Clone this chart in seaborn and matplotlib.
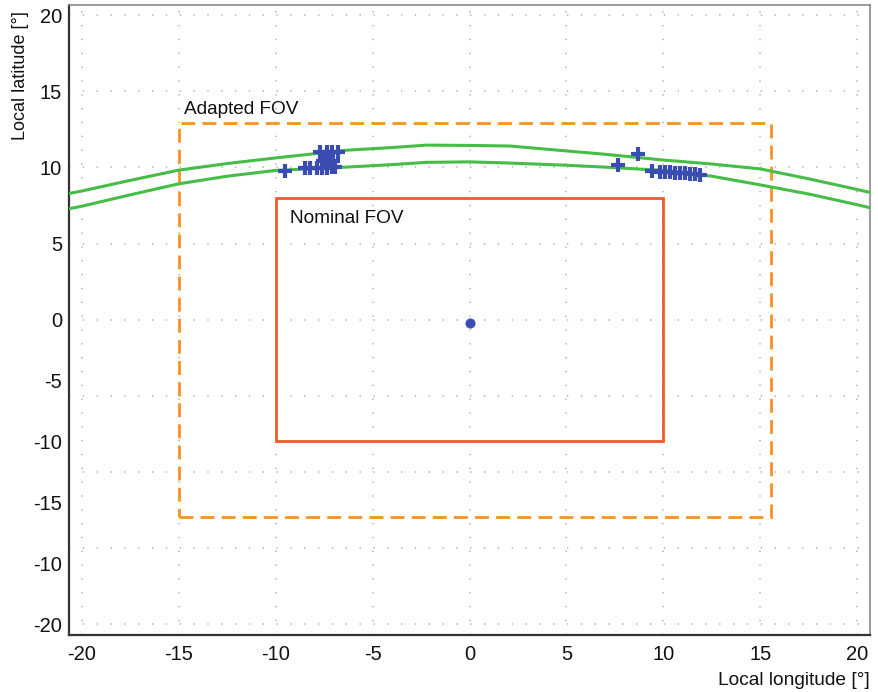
import matplotlib
matplotlib.use("Agg")
import matplotlib.pyplot as plt
import seaborn as sns
import pandas as pd
from matplotlib.patches import Rectangle

# ---------------- data ----------------
curve_x = [-21.0, -20.0, -17.5, -15.0, -12.5, -10.0, -6.3, -4.0, -2.2, 0.0, 2.1, 4.8, 6.9, 10.0, 12.5, 15.0, 17.5, 20.0, 21.0]
upper_y = [8.20, 8.45, 9.15, 9.82, 10.25, 10.62, 11.13, 11.30, 11.46, 11.44, 11.40, 11.10, 10.87, 10.48, 10.22, 9.90, 9.25, 8.55, 8.25]
lower_y = [7.20, 7.45, 8.20, 8.92, 9.42, 9.80, 10.02, 10.18, 10.33, 10.36, 10.28, 10.15, 10.02, 9.80, 9.42, 8.85, 8.25, 7.55, 7.25]

star_x = [-9.51, -7.72, -7.37, -7.11, -6.77, -8.49, -8.23, -7.89, -7.63, -7.37, -7.11, -6.94,
          -7.56, -7.30, -7.05, 8.71, 7.68, 9.40, 9.83, 10.09, 10.35, 10.61, 10.86, 11.12,
          11.38, 11.64, 11.90]
star_y = [9.75, 11.02, 11.02, 11.02, 11.02, 9.93, 9.93, 9.95, 9.95, 9.98, 10.00, 10.00,
          10.40, 10.40, 10.40, 10.87, 10.15, 9.77, 9.72, 9.70, 9.68, 9.65, 9.62, 9.60,
          9.57, 9.54, 9.50]
center_x = [0.0]
center_y = [-0.22]

nominal_fov = [-10.0, 10.0, -7.95, 8.0]    # xmin, xmax, ymin, ymax
adapted_fov = [-15.0, 15.55, -12.95, 12.9]

x_ticks = [-20, -15, -10, -5, 0, 5, 10, 15, 20]
x_ticklabels = ["-20", "-15", "-10", "-5", "0", "5", "10", "15", "20"]
y_ticks = [20, 15, 10, 5, 0, -4, -8, -12, -16, -20]
y_ticklabels = ["20", "15", "10", "5", "0", "-5", "-10", "-15", "-10", "-20"]
grid_ticks = [-20, -15, -10, -5, 0, 5, 10, 15, 20]

# ---------------- style ----------------
sns.set_theme(style="white")
plt.rcParams["font.family"] = ["Liberation Sans", "DejaVu Sans"]

fig = plt.figure(figsize=(8.79, 6.92), dpi=100)
ax = fig.add_axes([0.0785, 0.0824, 0.9113, 0.9104])

green = "#46bd46"
blue = "#3a4db3"
orange = "#f7941d"
red = "#f15a2b"

curves = pd.DataFrame({"x": curve_x, "upper": upper_y, "lower": lower_y})
sns.lineplot(data=curves, x="x", y="upper", ax=ax, color=green, lw=2.2, sort=False, zorder=3)
sns.lineplot(data=curves, x="x", y="lower", ax=ax, color=green, lw=2.2, sort=False, zorder=3)

# FOV rectangles
ax.add_patch(Rectangle((adapted_fov[0], adapted_fov[2]),
                       adapted_fov[1] - adapted_fov[0], adapted_fov[3] - adapted_fov[2],
                       fill=False, edgecolor=orange, lw=2.0, ls=(0, (5, 2.6)), zorder=2))
ax.add_patch(Rectangle((nominal_fov[0], nominal_fov[2]),
                       nominal_fov[1] - nominal_fov[0], nominal_fov[3] - nominal_fov[2],
                       fill=False, edgecolor=red, lw=2.0, zorder=2))

stars = pd.DataFrame({"x": star_x, "y": star_y})
sns.scatterplot(data=stars, x="x", y="y", ax=ax, marker="+", s=110,
                color=blue, linewidth=3.0, zorder=4)
sns.scatterplot(x=center_x, y=center_y, ax=ax, marker="o", s=45,
                color=blue, edgecolor=blue, linewidth=0.5, zorder=4)

ax.text(adapted_fov[0] + 0.25, adapted_fov[3] + 0.35, "Adapted FOV", fontsize=13.7,
        ha="left", va="bottom", color="#111111")
ax.text(nominal_fov[0] + 0.75, nominal_fov[3] - 0.8, "Nominal FOV", fontsize=13.7,
        ha="left", va="top", color="#111111")

ax.set_xlim(-20.67, 20.67)
ax.set_ylim(-20.7, 20.66)

ax.xaxis.remove_overlapping_locs = False
ax.yaxis.remove_overlapping_locs = False
ax.set_xticks(x_ticks)
ax.set_xticklabels(x_ticklabels)
ax.set_yticks(y_ticks)
ax.set_yticklabels(y_ticklabels)
ax.set_xticks(grid_ticks, minor=True)
ax.set_yticks(grid_ticks, minor=True)
ax.tick_params(axis="both", which="both", length=0, labelsize=14.5, colors="#111111")
ax.tick_params(axis="x", pad=7)
ax.tick_params(axis="y", pad=5)

ax.grid(False)
ax.grid(True, which="minor", color="#b5b5b5", lw=1.2, ls=(0, (0.8, 7.5)))
ax.set_axisbelow(True)

ax.set_xlabel("Local longitude [°]", fontsize=13.8, loc="right", color="#111111", labelpad=6)
ax.set_ylabel("Local latitude [°]", fontsize=13, loc="top", color="#111111", labelpad=6)
ax.yaxis.set_label_coords(-0.05, 0.99)

for side in ["left", "bottom"]:
    ax.spines[side].set_color("#333333")
    ax.spines[side].set_linewidth(1.6)
for side in ["top", "right"]:
    ax.spines[side].set_color("#8a8a8a")
    ax.spines[side].set_linewidth(1.2)

fig.savefig("out.png", dpi=100)
